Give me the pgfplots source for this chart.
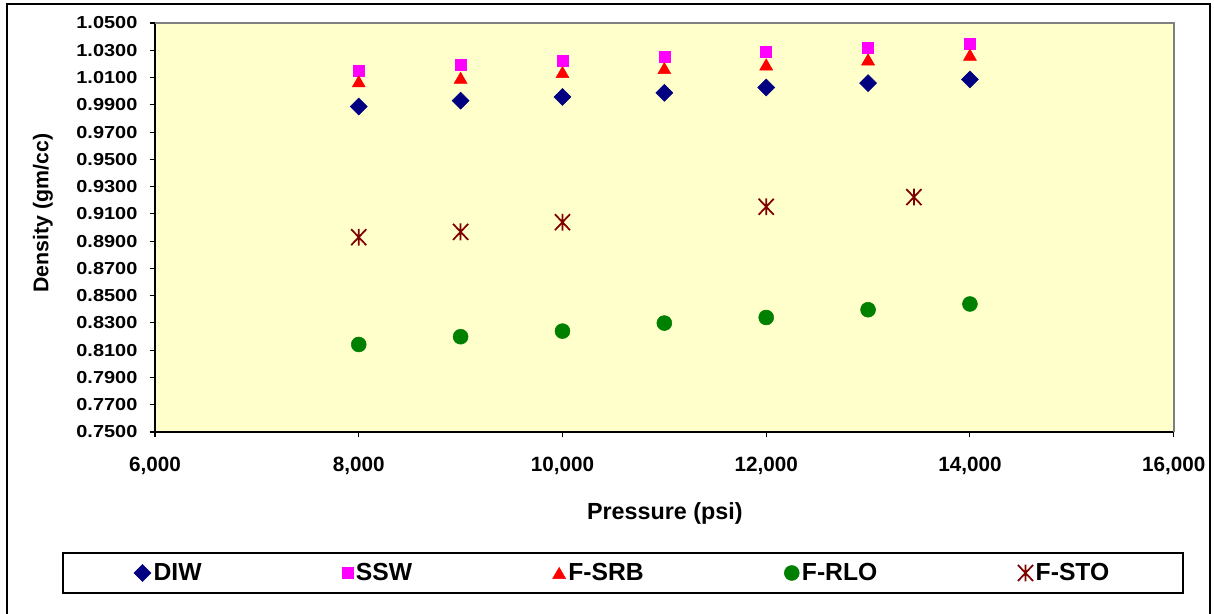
\documentclass[border=0pt]{standalone}
\usepackage{pgfplots}
\pgfplotsset{compat=1.18}
\usepackage{fontspec}
\setmainfont{Liberation Sans}
\definecolor{bgyellow}{HTML}{FFFFCC}
\definecolor{diw}{HTML}{000080}
\definecolor{ssw}{HTML}{FF00FF}
\definecolor{srb}{HTML}{FF0000}
\definecolor{rlo}{HTML}{008000}
\definecolor{sto}{HTML}{800000}
\pgfdeclareplotmark{xast}{%
  \pgfpathmoveto{\pgfqpoint{0pt}{\pgfplotmarksize}}%
  \pgfpathlineto{\pgfqpoint{0pt}{-\pgfplotmarksize}}%
  \pgfpathmoveto{\pgfqpoint{-.9\pgfplotmarksize}{.95\pgfplotmarksize}}%
  \pgfpathlineto{\pgfqpoint{.9\pgfplotmarksize}{-.95\pgfplotmarksize}}%
  \pgfpathmoveto{\pgfqpoint{-.9\pgfplotmarksize}{-.95\pgfplotmarksize}}%
  \pgfpathlineto{\pgfqpoint{.9\pgfplotmarksize}{.95\pgfplotmarksize}}%
  \pgfusepathqstroke}
\begin{document}
\begin{tikzpicture}
\useasboundingbox (-116.25pt,-136.5pt) rectangle (794.25pt,324pt);
\fill[white] (-116.25pt,-136.5pt) rectangle (794.25pt,324pt);
\draw[black, line width=0.8pt] (-111pt,-140pt) -- (-111pt,321pt) -- (791.25pt,321pt) -- (791.25pt,-140pt);
\begin{axis}[
  at={(0pt,0pt)}, anchor=origin,
  scale only axis,
  width=764pt, height=306.75pt,
  xmin=6000, xmax=16000, ymin=0.75, ymax=1.05,
  xtick={6000,8000,10000,12000,14000,16000},
  ytick={0.75,0.77,0.79,0.81,0.83,0.85,0.87,0.89,0.91,0.93,0.95,0.97,0.99,1.01,1.03,1.05},
  scaled x ticks=false, scaled y ticks=false,
  xticklabel={\pgfmathprintnumber[fixed,precision=0,1000 sep={,},assume math mode=true]{\tick}},
  yticklabel={\pgfmathprintnumber[fixed,fixed zerofill,precision=4,assume math mode=true]{\tick}},
  axis x line*=bottom, axis y line*=left,
  axis line style={black, line width=0.8pt, -},
  tick style={black, line width=0.8pt},
  tick align=outside, major tick length=4pt,
  xticklabel style={font=\bfseries\fontsize{15.5}{18}\selectfont, yshift=-11pt},
  yticklabel style={font=\bfseries\fontsize{13}{15}\selectfont, xscale=1.15, xshift=-4.5pt},
  axis background/.style={fill=bgyellow},
  xlabel={Pressure (psi)}, ylabel={Density (gm/cc)},
  xlabel style={font=\bfseries\fontsize{17.5}{20}\selectfont, at={(axis description cs:0.5005,-0.198)}, anchor=center},
  ylabel style={font=\bfseries\fontsize{16}{19}\selectfont, at={(axis description cs:-0.11,0.535)}, anchor=center, rotate=0},
  legend columns=5,
  legend style={at={(axis description cs:0.4594,-0.3447)}, anchor=center, draw=none, fill=none,
    font=\bfseries\fontsize{18.5}{21}\selectfont,
    /tikz/every even column/.append style={column sep=103.5pt}},
  clip=false,
]
\draw[gray, line width=1.5pt] (rel axis cs:0,1) -- (rel axis cs:1,1) -- (rel axis cs:1,0);
\addplot[only marks, mark=square*, mark size=4.5pt, mark options={rotate=45, draw=diw, fill=diw}] coordinates {
(8000,0.9887) (9000,0.9930) (10000,0.9958) (11000,0.9988) (12000,1.0027) (13000,1.0059) (14000,1.0086)};
\addlegendentry{DIW}
\addplot[only marks, mark=square*, mark size=4.1pt, mark options={draw=ssw, fill=ssw}] coordinates {
(8000,1.0149) (9000,1.0193) (10000,1.0221) (11000,1.0250) (12000,1.0292) (13000,1.0318) (14000,1.0348)};
\addlegendentry{SSW}
\addplot[only marks, mark=triangle*, mark size=5.6pt, mark options={draw=srb, fill=srb, yshift=-1.4pt}] coordinates {
(8000,1.0072) (9000,1.0098) (10000,1.0140) (11000,1.0169) (12000,1.0196) (13000,1.0233) (14000,1.0267)};
\addlegendentry{F-SRB}
\addplot[only marks, mark=*, mark size=5.6pt, mark options={draw=rlo, fill=rlo}] coordinates {
(8000,0.8142) (9000,0.8199) (10000,0.8240) (11000,0.8299) (12000,0.8340) (13000,0.8397) (14000,0.8439)};
\addlegendentry{F-RLO}
\addplot[only marks, mark=xast, mark size=6.3pt, mark options={draw=sto, line width=1.3pt}] coordinates {
(8000,0.8929) (9000,0.8968) (10000,0.9039) (12000,0.9152) (13450,0.9223)};
\addlegendentry{F-STO}
\end{axis}
\draw[black, line width=0.8pt] (-69pt,-90.75pt) rectangle (771pt,-120.75pt);
\end{tikzpicture}
\end{document}
